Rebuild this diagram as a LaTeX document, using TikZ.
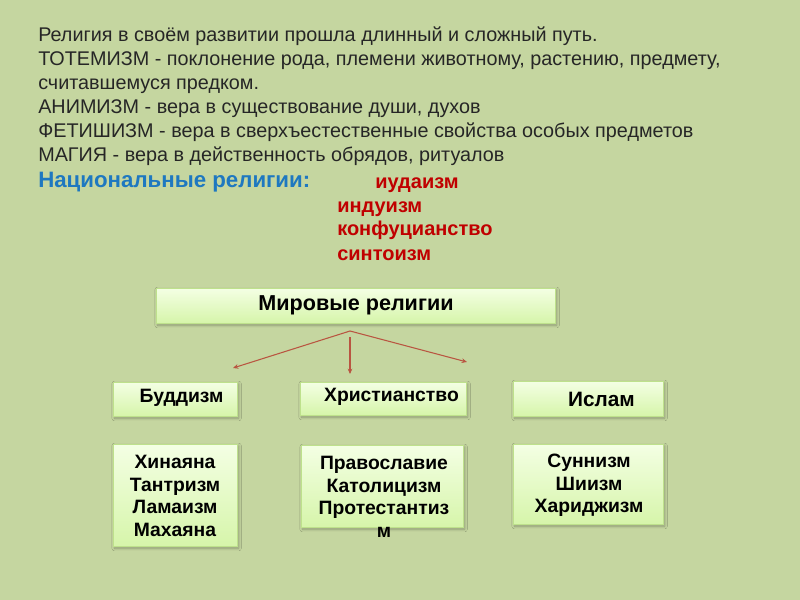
\documentclass[tikz,border=0pt]{standalone}
\usepackage{fontspec}
\setmainfont{Liberation Sans}
\usetikzlibrary{shadows.blur,arrows.meta}
\definecolor{bg}{RGB}{197,214,160}
\definecolor{boxtop}{RGB}{244,255,228}
\definecolor{boxbot}{RGB}{214,245,170}
\definecolor{boxline}{RGB}{190,225,140}
\definecolor{natblue}{RGB}{30,120,192}
\definecolor{natred}{RGB}{192,0,0}
\definecolor{arrowc}{RGB}{185,85,65}
\tikzset{
  toptext/.style={anchor=mid west, inner sep=0pt, font=\fontsize{14.85}{17}\selectfont, text=black!85},
  natitem/.style={anchor=mid west, inner sep=0pt, font=\fontsize{15}{17}\selectfont\bfseries, text=natred},
  relbox/.style={draw=boxline, line width=0.6pt, top color=boxtop, bottom color=boxbot, inner sep=0pt,
    blur shadow={shadow xshift=1.2pt, shadow yshift=-1.5pt, shadow blur steps=6, shadow opacity=28}},
  boxtext/.style={inner sep=0pt, font=\fontsize{14.5}{17}\selectfont\bfseries, align=center},
  conn/.style={draw=arrowc, line width=0.8pt, -{Stealth[length=4pt,width=3.5pt]}}
}
\begin{document}
\begin{tikzpicture}[x=0.75pt,y=-0.75pt]
\fill[bg] (0,0) rectangle (800,600);
\useasboundingbox (0,0) rectangle (800,600);
% top text
\node[toptext] (l1) at (38,38) {Религия в своём развитии прошла длинный и сложный путь.};
\node[toptext] (l2) at (38,62) {ТОТЕМИЗМ - поклонение рода, племени животному, растению, предмету,};
\node[toptext] (l3) at (38,86) {считавшемуся предком.};
\node[toptext] (l4) at (38,110) {АНИМИЗМ - вера в существование души, духов};
\node[toptext] (l5) at (38,134) {ФЕТИШИЗМ - вера в сверхъестественные свойства особых предметов};
\node[toptext] (l6) at (38,158) {МАГИЯ - вера в действенность обрядов, ритуалов};
\node[anchor=mid west, inner sep=0pt, font=\fontsize{16.7}{18}\selectfont\bfseries, text=natblue] (nat) at (38,184) {Национальные религии:};
\node[natitem] (n1) at (375,185) {иудаизм};
\node[natitem] (n2) at (337,209) {индуизм};
\node[natitem] (n3) at (337,232) {конфуцианство};
\node[natitem] (n4) at (337,257) {синтоизм};
% world religions box
\node[relbox, minimum width=399*0.75pt, minimum height=35*0.75pt] (mir) at (355.5,305.5) {};
\node[boxtext, font=\fontsize{16.2}{18}\selectfont\bfseries] (mirt) at (356,305) {Мировые религии};
% second row
\node[relbox, minimum width=124*0.75pt, minimum height=34*0.75pt] (bud) at (175,399) {};
\node[boxtext] (budt) at (181.5,398) {Буддизм};
\node[relbox, minimum width=166*0.75pt, minimum height=33*0.75pt] (hri) at (383,398.5) {};
\node[boxtext] (hrit) at (391.5,397) {Христианство};
\node[relbox, minimum width=150*0.75pt, minimum height=35*0.75pt] (isl) at (588,398.5) {};
\node[boxtext, font=\fontsize{15.6}{18}\selectfont\bfseries] (islt) at (601.5,399) {Ислам};
% third row
\node[relbox, minimum width=124*0.75pt, minimum height=102*0.75pt] (bud2) at (175,495) {};
\node[boxtext] (bud2t) at (175,496) {Хинаяна\\Тантризм\\Ламаизм\\Махаяна};
\node[relbox, minimum width=162*0.75pt, minimum height=82*0.75pt] (hri2) at (382,486) {};
\node[boxtext] (hri2t) at (384,497) {Православие\\Католицизм\\Протестантиз\\м};
\node[relbox, minimum width=150*0.75pt, minimum height=80*0.75pt] (isl2) at (588,484) {};
\node[boxtext] (isl2t) at (589,485.5) {Суннизм\\Шиизм\\Хариджизм};
% connectors
\coordinate (apex) at (350,331);
\coordinate (mtop) at (350,337);
\coordinate (tl) at (233,368);
\coordinate (tm) at (350,374);
\coordinate (tr) at (467,362);
\draw[conn] (apex) -- (tl);
\draw[conn] (apex) -- (tr);
\draw[conn] (mtop) -- (tm);
\end{tikzpicture}
\end{document}
